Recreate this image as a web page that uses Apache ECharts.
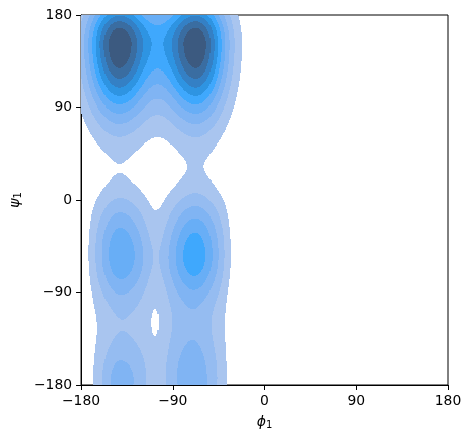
<!DOCTYPE html>
<html>
<head>
<meta charset="utf-8">
<script src="https://cdn.jsdelivr.net/npm/echarts@6/dist/echarts.min.js"></script>
<style>
  html, body { margin: 0; padding: 0; background: #fff; }
  #chart { width: 471px; height: 442px; }
</style>
</head>
<body>
<div id="chart"></div>
<script>
// density blobs (degrees); lo/hi = spread below/above the centre
var peakPhi    = [-143, -67, -143, -67, -143, -69, -105, -143, -66, -105, -105];
var peakPsi    = [152, 152, -52, -52, -185, -185, -50, -85, -85, -110, 155];
var sigPhiLo   = [22, 23, 16, 18, 14, 21, 25, 27, 30, 40, 15];
var sigPhiHi   = [23, 21, 18, 18, 22, 18, 25, 27, 28, 40, 15];
var sigPsiLo   = [50, 50, 34, 32, 30, 30, 35, 100, 110, 60, 30];
var sigPsiHi   = [32, 32, 39.5, 40, 35, 50, 35, 80, 80, 60, 30];
var peakHeight = [1.0, 1.0, 0.38, 0.45, 0.30, 0.30, 0.08, 0.07, 0.08, 0.024, 0.07];
var peakShape  = [1, 1, 1, 1, 1, 1, 1, 3, 3, 3, 1];

// contour levels and their fill colours (light -> dark)
var levels = [0.1, 0.2, 0.3, 0.4, 0.5, 0.6, 0.7, 0.8, 0.9];
var levelColors = ['#a9c5ef', '#95bcf1', '#80b4f3', '#68aef6', '#3fa8fd',
                   '#2e94e2', '#3480c5', '#3a6da1', '#3c5a80'];

function density(phi, psi) {
  var s = 0;
  for (var k = 0; k < peakPhi.length; k++) {
    var dx = phi - peakPhi[k], dy = psi - peakPsi[k];
    var rx = dx / (dx < 0 ? sigPhiLo[k] : sigPhiHi[k]);
    var ry = dy / (dy < 0 ? sigPsiLo[k] : sigPsiHi[k]);
    var p = peakShape[k];
    s += peakHeight[k] * Math.exp(-0.5 * (Math.pow(rx * rx, p) + Math.pow(ry * ry, p)));
  }
  return s;
}

function bandOf(v) {
  var b = 0;
  for (var i = 0; i < levels.length; i++) if (v >= levels[i]) b = i + 1;
  return b;
}

// filled bands as horizontal runs on a 1 degree grid
var step = 1;
var runs = [];
for (var psi = -180; psi < 180; psi += step) {
  var start = -180, cur = 0;
  for (var phi = -180; phi <= 180; phi += step) {
    var b = phi < 180 ? bandOf(density(phi + step / 2, psi + step / 2)) : 0;
    if (b !== cur) {
      if (cur > 0) runs.push([start, phi, psi, psi + step, cur]);
      start = phi;
      cur = b;
    }
  }
}

var chart = echarts.init(document.getElementById('chart'));
var font = 'DejaVu Sans';
var minus = function (v) { return String(v).replace('-', '\u2212'); };

function axis(name, pos) {
  return {
    type: 'value',
    position: pos,
    min: -180,
    max: 180,
    interval: 90,
    name: name,
    nameLocation: 'middle',
    nameTextStyle: {
      rich: {
        a: { fontFamily: font, fontStyle: 'italic', fontSize: 14, color: '#000' },
        b: { fontFamily: font, fontSize: 10, color: '#000', padding: [6, 0, 0, 0] }
      }
    },
    axisLine: { show: true, onZero: false, lineStyle: { color: '#000', width: 1 } },
    axisTick: { show: true, inside: false, length: 5, lineStyle: { color: '#000', width: 1 } },
    axisLabel: { color: '#000', fontFamily: font, fontSize: 13.9, margin: 9, formatter: minus },
    splitLine: { show: false }
  };
}

var xAxis = axis('{a|ϕ}{b|1}', 'bottom');
xAxis.nameGap = 29;
var yAxis = axis('{a|ψ}{b|1}', 'left');
yAxis.nameGap = 48;
yAxis.nameRotate = 90;

var option = {
  animation: false,
  backgroundColor: '#fff',
  grid: {
    left: 79, right: 23, top: 15, bottom: 57,
    show: true, borderColor: '#000', borderWidth: 1, backgroundColor: 'transparent'
  },
  xAxis: xAxis,
  yAxis: yAxis,
  series: [{
    type: 'custom',
    clip: true,
    progressive: 0,
    silent: true,
    data: runs,
    encode: { x: [0, 1], y: [2, 3] },
    renderItem: function (params, api) {
      // snap to whole pixels so neighbouring runs leave no seams
      var a = api.coord([api.value(0), api.value(3)]);
      var c = api.coord([api.value(1), api.value(2)]);
      var x0 = Math.round(a[0]), y0 = Math.round(a[1]);
      return {
        type: 'rect',
        shape: { x: x0, y: y0, width: Math.round(c[0]) - x0, height: Math.round(c[1]) - y0 },
        style: { fill: levelColors[api.value(4) - 1] }
      };
    }
  }]
};

chart.setOption(option);
</script>
</body>
</html>
